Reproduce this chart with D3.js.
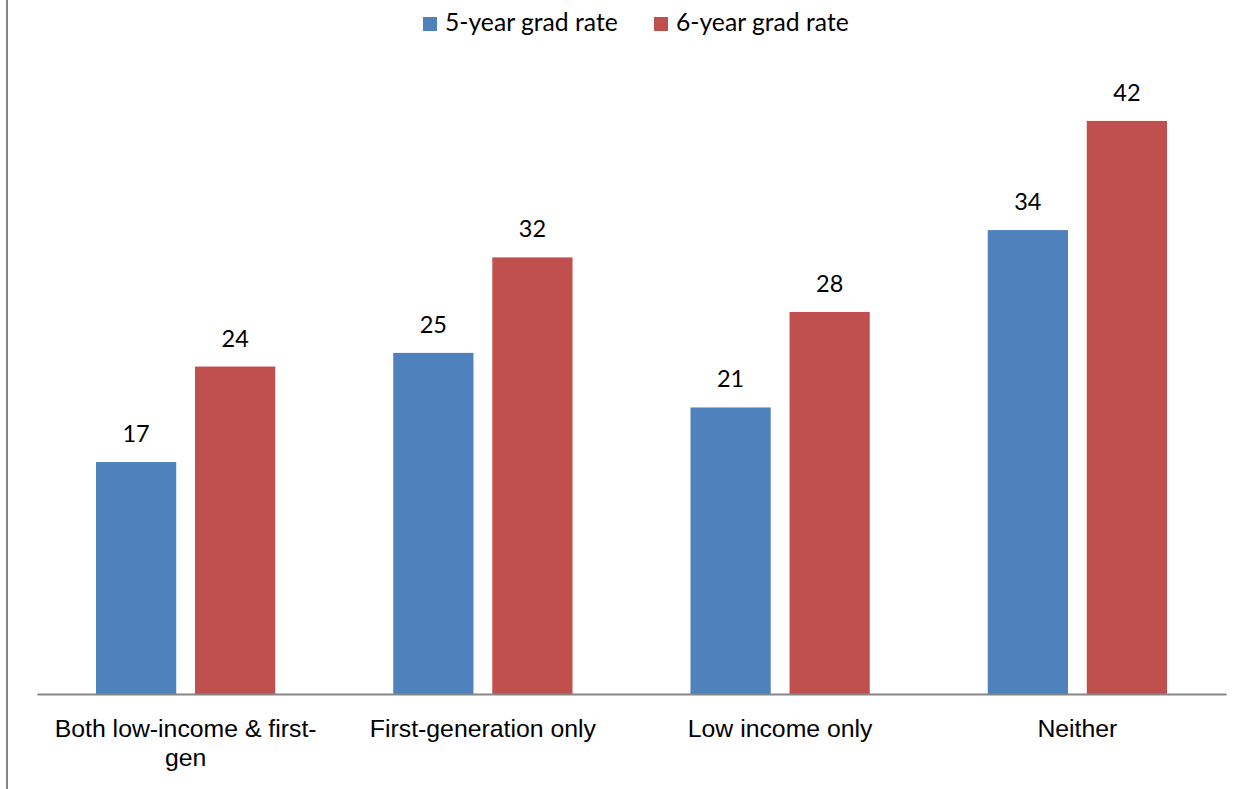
<!DOCTYPE html>
<html>
<head>
<meta charset="utf-8">
<script src="https://cdn.jsdelivr.net/npm/d3@7"></script>
<style>
  html, body { margin: 0; padding: 0; background: #fff; }
  svg { display: block; font-family: Lato, "Open Sans", sans-serif; }
</style>
</head>
<body>
<svg id="chart" width="1250" height="789"></svg>
<script>
// Graduation rates by student background
const categories = [
  "Both low-income & first-\ngen",
  "First-generation only",
  "Low income only",
  "Neither"
];
const seriesNames = ["5-year grad rate", "6-year grad rate"];
const fiveYear = [17, 25, 21, 34];
const sixYear = [24, 32, 28, 42];
const seriesColors = ["#4F81BD", "#C0504D"];

const svg = d3.select("#chart");
const width = 1250, height = 789;
const plot = { left: 37, right: 1226, top: 80, bottom: 694 };

const x0 = d3.scaleBand()
  .domain(categories)
  .range([plot.left, plot.right])
  .paddingInner(0)
  .paddingOuter(0);

const x1 = d3.scaleBand()
  .domain(seriesNames)
  .range([59, x0.bandwidth() - 59])
  .paddingInner(0.19);

const y = d3.scaleLinear().domain([0, 45]).range([plot.bottom, plot.top]);

const rows = categories.map((c, i) => ({
  category: c,
  values: [
    { series: seriesNames[0], value: fiveYear[i], color: seriesColors[0] },
    { series: seriesNames[1], value: sixYear[i], color: seriesColors[1] }
  ]
}));

// outer frame edge on the left
svg.append("line")
  .attr("x1", 7).attr("x2", 7).attr("y1", 0).attr("y2", height)
  .attr("stroke", "#868686").attr("stroke-width", 2);

const groups = svg.append("g").selectAll("g")
  .data(rows)
  .join("g")
  .attr("transform", d => `translate(${x0(d.category)},0)`);

groups.selectAll("rect")
  .data(d => d.values)
  .join("rect")
  .attr("x", d => x1(d.series))
  .attr("y", d => y(d.value))
  .attr("width", x1.bandwidth())
  .attr("height", d => y(0) - y(d.value))
  .attr("fill", d => d.color);

groups.selectAll("text.value")
  .data(d => d.values)
  .join("text")
  .attr("class", "value")
  .attr("x", d => x1(d.series) + x1.bandwidth() / 2)
  .attr("y", d => y(d.value) - 20)
  .attr("text-anchor", "middle")
  .attr("font-size", 23.5)
  .attr("fill", "#000")
  .text(d => d.value);

// category axis
const xAxis = d3.axisBottom(x0).tickSize(0).tickPadding(0).tickFormat("");
const axisG = svg.append("g")
  .attr("transform", `translate(0,${plot.bottom})`)
  .call(xAxis);
axisG.select(".domain").attr("stroke", "#868686").attr("stroke-width", 2);

axisG.selectAll(".tick").each(function(d) {
  const t = d3.select(this).append("text")
    .attr("text-anchor", "middle")
    .attr("fill", "#000")
    .attr("font-size", 24.8);
  d.split("\n").forEach((line, i) => {
    t.append("tspan").attr("x", 0).attr("y", 43 + i * 29).text(line);
  });
});

// legend
const legendItems = [
  { name: seriesNames[0], color: seriesColors[0], x: 423 },
  { name: seriesNames[1], color: seriesColors[1], x: 654 }
];
const legend = svg.append("g").selectAll("g")
  .data(legendItems)
  .join("g")
  .attr("transform", d => `translate(${d.x},17)`);
legend.append("rect").attr("width", 14).attr("height", 14).attr("fill", d => d.color);
legend.append("text")
  .attr("x", 22).attr("y", 14)
  .attr("font-size", 24.7)
  .attr("fill", "#000")
  .text(d => d.name);
</script>
</body>
</html>
